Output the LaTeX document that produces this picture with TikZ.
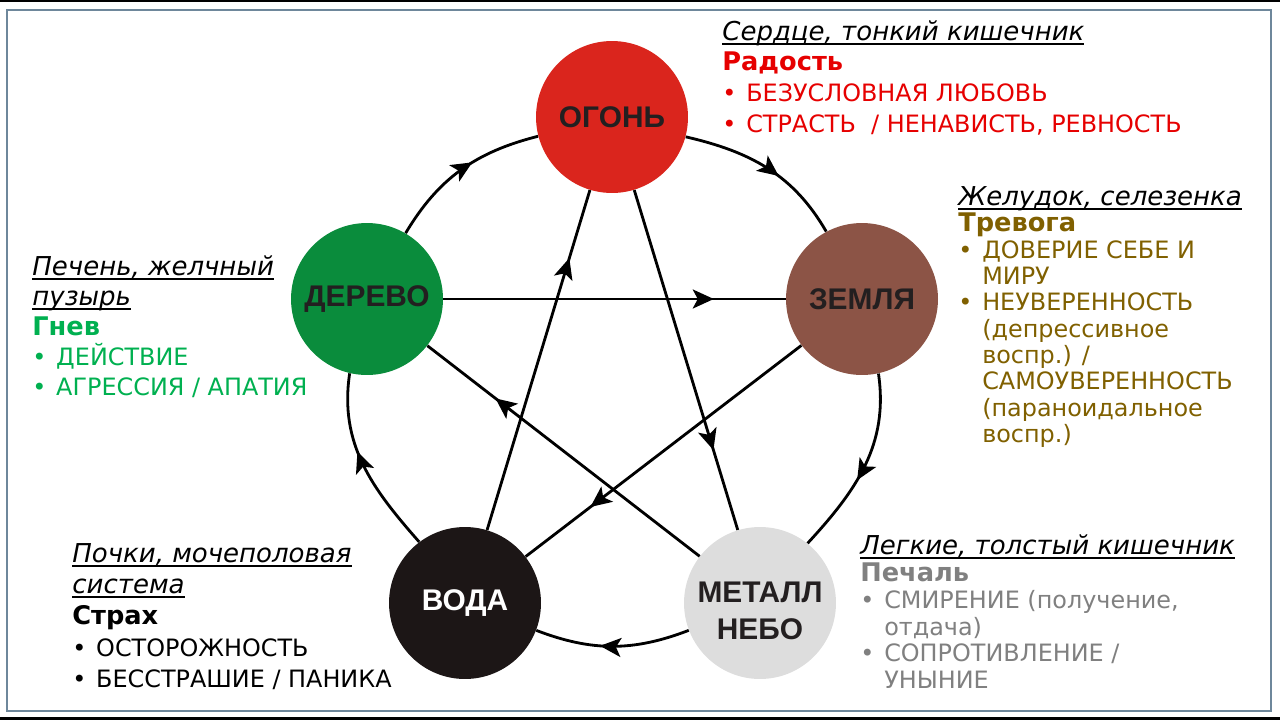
\documentclass[tikz,border=0pt]{standalone}
\usepackage{fontspec}
\setmainfont{DejaVu Sans}
\newfontfamily\lblfont{Liberation Sans}
\usepackage{tikz}
\usetikzlibrary{arrows.meta,decorations.markings}

\definecolor{firered}{RGB}{218,37,29}
\definecolor{earthbrown}{RGB}{140,84,70}
\definecolor{woodgreen}{RGB}{10,140,60}
\definecolor{waterblack}{RGB}{28,22,22}
\definecolor{metalgrey}{RGB}{221,221,221}
\definecolor{elemtext}{RGB}{35,31,32}
\definecolor{joyred}{RGB}{230,0,0}
\definecolor{angergreen}{RGB}{0,176,80}
\definecolor{worryolive}{RGB}{128,96,0}
\definecolor{sadgrey}{RGB}{128,128,128}
\definecolor{framecol}{RGB}{110,135,155}

\newlength{\orgwd}
\newcommand{\organ}[1]{\textcolor{black}{\fontsize{14.8}{15}\selectfont\itshape
  \settowidth{\orgwd}{#1}\smash{\rlap{#1}\rule[-2.4pt]{\orgwd}{0.8pt}}}}
\newcommand{\emo}[1]{{\fontsize{14.6}{15}\selectfont\bfseries #1}}
\newcommand{\bul}{\makebox[13.6pt][l]{•}}
\newcommand{\ind}{\hspace*{13.6pt}}

\tikzset{
  element/.style={circle, minimum size=3.04cm, inner sep=0pt, align=center,
    font=\lblfont\bfseries\fontsize{17}{21}\selectfont, text=elemtext},
  flow/.style={line width=1.6pt, postaction={decorate},
    decoration={markings, mark=at position #1 with {\arrow{Stealth[length=4.2mm,width=3.8mm,inset=1mm]}}}},
  flow/.default=0.58,
  ring/.style={relative, looseness=1},
  notes/.style={anchor=north west, inner sep=0pt, align=left}
}

\begin{document}
\begin{tikzpicture}[x=0.02cm,y=0.02cm]
\useasboundingbox (0,0) rectangle (1280,-720);
\fill[black] (0,0) rectangle (1280,-1.5);
\fill[black] (0,-716.5) rectangle (1280,-720);
\draw[framecol, line width=1.1pt] (7,-10) rectangle (1271,-711);

% the five elements
\node[element, fill=firered] (fire) at (612,-117) {ОГОНЬ};
\node[element, fill=earthbrown] (earth) at (862,-299) {ЗЕМЛЯ};
\node[element, fill=woodgreen] (wood) at (367,-299) {ДЕРЕВО};
\node[element, fill=waterblack, text=white] (water) at (465,-603) {ВОДА};
\node[element, fill=metalgrey] (metal) at (760,-603) {\rule{0pt}{21pt}МЕТАЛЛ\\НЕБО};

% outer cycle
\draw[flow] (wood) to[ring, out=23, in=158] (fire);
\draw[flow] (fire) to[ring, out=21, in=154] (earth);
\draw[flow] (earth) to[ring, out=31, in=160] (metal);
\draw[flow] (metal) to[ring, out=21, in=159] (water);
\draw[flow] (water) to[ring, out=19, in=149] (wood);

% star
\draw[flow=0.79] (wood) -- (earth);
\draw[flow=0.765] (fire) -- (metal);
\draw[flow=0.765] (earth) -- (water);
\draw[flow=0.75] (metal) -- (wood);
\draw[flow=0.8] (water) -- (fire);

% texts
\node[notes, text=joyred, font=\fontsize{13.6}{17.4}\selectfont] (fire text) at (722,-40) {%
  \organ{Сердце, тонкий кишечник}\\
  \emo{Радость}\\
  \bul БЕЗУСЛОВНАЯ ЛЮБОВЬ\\
  \bul СТРАСТЬ\ \ / НЕНАВИСТЬ, РЕВНОСТЬ};
\node[notes, text=worryolive, font=\fontsize{13.6}{15}\selectfont] (earth text) at (958,-205) {%
  \organ{Желудок, селезенка}\\
  \emo{Тревога}\\
  \bul ДОВЕРИЕ СЕБЕ И\\
  \ind МИРУ\\
  \bul НЕУВЕРЕННОСТЬ\\
  \ind (депрессивное\\
  \ind воспр.) /\\
  \ind САМОУВЕРЕННОСТЬ\\
  \ind (параноидальное\\
  \ind воспр.)};
\node[notes, text=angergreen, font=\fontsize{13.6}{17.1}\selectfont] (wood text) at (32,-275) {%
  \organ{Печень, желчный}\\
  \organ{пузырь}\\
  \emo{Гнев}\\
  \bul ДЕЙСТВИЕ\\
  \bul АГРЕССИЯ / АПАТИЯ};
\node[notes, text=black, font=\fontsize{13.6}{17.8}\selectfont] (water text) at (72,-562) {%
  \organ{Почки, мочеполовая}\\
  \organ{система}\\
  \emo{Страх}\\
  \bul ОСТОРОЖНОСТЬ\\
  \bul БЕССТРАШИЕ / ПАНИКА};
\node[notes, text=sadgrey, font=\fontsize{13.6}{15.3}\selectfont] (metal text) at (860,-554) {%
  \organ{Легкие, толстый кишечник}\\
  \emo{Печаль}\\
  \bul СМИРЕНИЕ (получение,\\
  \ind отдача)\\
  \bul СОПРОТИВЛЕНИЕ /\\
  \ind УНЫНИЕ};
\end{tikzpicture}
\end{document}
